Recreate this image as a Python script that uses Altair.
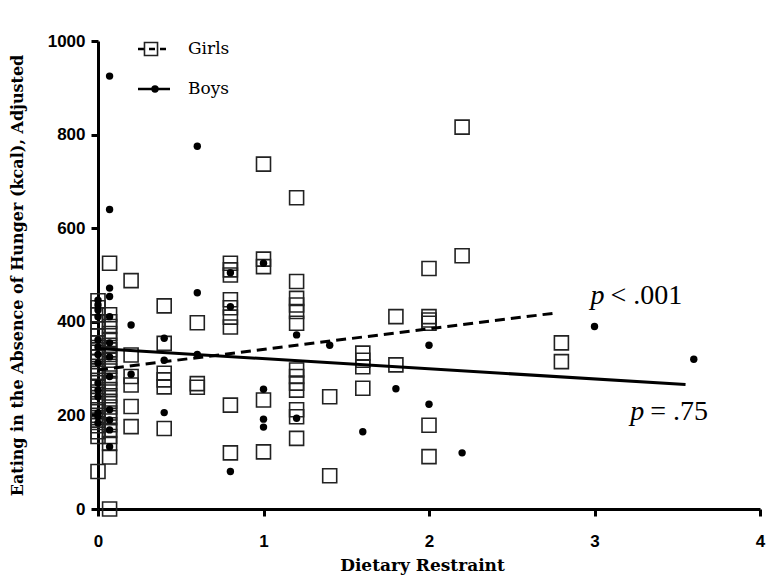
import altair as alt
import pandas as pd

# ---- data ----
girls_x_levels = [0.0, 0.07, 0.2, 0.4, 0.6, 0.8, 1.0, 1.2, 1.4, 1.6, 1.8, 2.0, 2.2, 2.8]
girls_y_values = [
    [445, 430, 415, 400, 385, 370, 355, 345, 335, 325, 315, 300, 290, 275, 262, 250, 238, 225, 212, 200, 190, 178, 165, 155, 80],
    [525, 415, 400, 390, 375, 362, 350, 340, 330, 318, 305, 295, 280, 268, 255, 242, 230, 218, 205, 195, 180, 168, 155, 140, 111, 0],
    [488, 329, 283, 265, 219, 176],
    [434, 354, 290, 276, 261, 172],
    [398, 268, 260],
    [525, 511, 500, 447, 430, 410, 389, 222, 120],
    [737, 534, 518, 233, 122],
    [665, 486, 450, 436, 422, 397, 297, 283, 269, 254, 212, 197, 151],
    [240, 71],
    [333, 318, 304, 258],
    [411, 308],
    [514, 411, 404, 397, 179, 112],
    [816, 541],
    [355, 315],
]

boys_x_levels = [0.0, 0.07, 0.2, 0.4, 0.6, 0.8, 1.0, 1.2, 1.4, 1.6, 1.8, 2.0, 2.2, 3.0, 3.6]
boys_y_values = [
    [446, 436, 425, 411, 361, 346, 330, 312, 269, 254, 240, 205, 197, 184],
    [925, 640, 472, 454, 411, 355, 325, 283, 212, 190, 169, 133],
    [393, 288],
    [365, 318, 206],
    [775, 462, 330],
    [505, 432, 80],
    [525, 256, 192, 175],
    [372, 194],
    [350],
    [165],
    [257],
    [350, 224],
    [120],
    [390],
    [320],
]

girls_fit_x = [0.0, 2.77]
girls_fit_y = [297, 419]
boys_fit_x = [0.0, 3.55]
boys_fit_y = [343, 266]

ann_x = [3.06, 3.30]
ann_y = [438, 190]
ann_p = ["p", "p"]
ann_rest = ["< .001", "= .75"]

legend_labels = ["Girls", "Boys"]

# ---- tables ----
girls = pd.DataFrame([{"x": x, "y": y} for x, ys in zip(girls_x_levels, girls_y_values) for y in ys])
boys = pd.DataFrame([{"x": x, "y": y} for x, ys in zip(boys_x_levels, boys_y_values) for y in ys])
gfit = pd.DataFrame({"x": girls_fit_x, "y": girls_fit_y})
bfit = pd.DataFrame({"x": boys_fit_x, "y": boys_fit_y})
ann = pd.DataFrame({"x": ann_x, "y": ann_y, "p": ann_p, "rest": ann_rest})
one = pd.DataFrame({"a": [0]})

LABEL_FONT = "Liberation Sans"
SERIF = "Liberation Serif"
WIDE_SERIF = "DejaVu Serif"

xscale = alt.Scale(domain=[0, 4], nice=False, zero=False)
yscale = alt.Scale(domain=[0, 1000], nice=False)

xaxis = alt.Axis(
    values=[0, 1, 2, 3, 4], format="d", grid=False,
    domainColor="black", domainWidth=3, tickColor="black", tickWidth=3, tickSize=7,
    labelFont=LABEL_FONT, labelFontSize=17, labelFontWeight="bold", labelColor="black",
    labelPadding=17, labelFlush=False,
    title="Dietary Restraint", titleFont=WIDE_SERIF, titleFontSize=17, titleFontWeight="bold",
    titleColor="black", titleX=324, titleY=61, titleBaseline="alphabetic", titleAlign="center",
)
yaxis = alt.Axis(
    values=[0, 200, 400, 600, 800, 1000], format="d", grid=False,
    domainColor="black", domainWidth=3, tickColor="black", tickWidth=3, tickSize=7,
    labelFont=LABEL_FONT, labelFontSize=17, labelFontWeight="bold", labelColor="black",
    labelPadding=6, labelFlush=False,
    title="Eating in the Absence of Hunger (kcal), Adjusted", titleFont=WIDE_SERIF, titleFontSize=16,
    titleFontWeight="bold", titleColor="black", titleAngle=-90, titleX=-81, titleY=234,
    titleAlign="center", titleBaseline="middle",
)

X = alt.X("x:Q", scale=xscale, axis=xaxis)
Y = alt.Y("y:Q", scale=yscale, axis=yaxis)

girls_pts = alt.Chart(girls).mark_point(
    shape="square", size=196, filled=False, stroke="#222222", strokeWidth=1.6, opacity=1
).encode(x=X, y=Y)

boys_pts = alt.Chart(boys).mark_circle(size=55, color="black", opacity=1).encode(x=X, y=Y)

girls_line = alt.Chart(gfit).mark_line(color="black", strokeWidth=3, strokeDash=[10, 6]).encode(x=X, y=Y)
boys_line = alt.Chart(bfit).mark_line(color="black", strokeWidth=3).encode(x=X, y=Y)

ann_p_txt = alt.Chart(ann).mark_text(
    font=SERIF, fontSize=28, fontStyle="italic", align="right", baseline="alphabetic", color="black"
).encode(x=X, y=Y, text="p:N")
ann_rest_txt = alt.Chart(ann).mark_text(
    font=SERIF, fontSize=28, align="left", baseline="alphabetic", dx=6, color="black"
).encode(x=X, y=Y, text="rest:N")

# ---- legend (top-left, inside the plot) ----
leg_g_line = alt.Chart(one).mark_rule(color="black", strokeWidth=2.5, strokeDash=[6, 5]).encode(
    x=alt.value(40), x2=alt.value(72), y=alt.value(8))
leg_g_sym = alt.Chart(one).mark_point(shape="square", size=170, filled=False, stroke="#222222",
                                      strokeWidth=1.6, opacity=1).encode(x=alt.value(53), y=alt.value(8))
leg_b_line = alt.Chart(one).mark_rule(color="black", strokeWidth=2.5).encode(
    x=alt.value(40), x2=alt.value(72), y=alt.value(48))
leg_b_sym = alt.Chart(one).mark_circle(size=55, color="black", opacity=1).encode(
    x=alt.value(57), y=alt.value(48))
leg_g_txt = alt.Chart(one).mark_text(font=WIDE_SERIF, fontSize=17, align="left", baseline="middle",
                                     color="black", text=legend_labels[0]).encode(x=alt.value(90), y=alt.value(8))
leg_b_txt = alt.Chart(one).mark_text(font=WIDE_SERIF, fontSize=17, align="left", baseline="middle",
                                     color="black", text=legend_labels[1]).encode(x=alt.value(90), y=alt.value(48))

chart = alt.layer(
    girls_pts, boys_pts, girls_line, boys_line, ann_p_txt, ann_rest_txt,
    leg_g_line, leg_g_sym, leg_b_line, leg_b_sym, leg_g_txt, leg_b_txt,
).properties(
    width=662, height=468,
    autosize=alt.AutoSizeParams(type="none"),
    padding={"left": 90, "top": 33, "right": 6, "bottom": 66},
    background="white",
).configure_view(stroke=None)

chart.save("out.html", embed_options={"renderer": "svg", "actions": False})
